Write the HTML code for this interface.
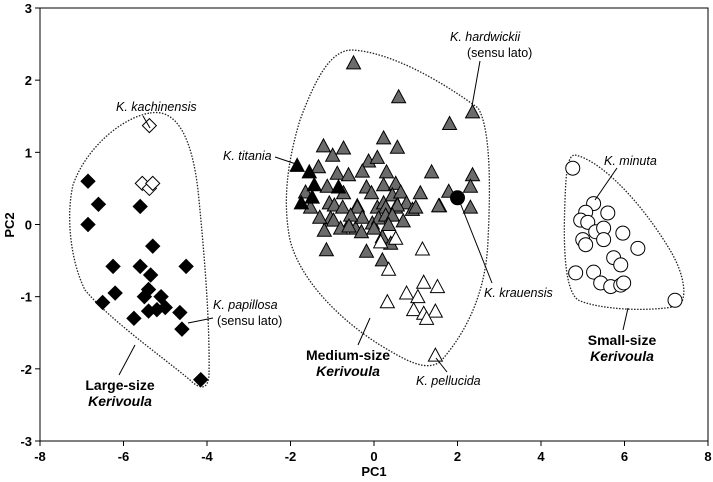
<!DOCTYPE html>
<html><head><meta charset="utf-8"><style>
body{margin:0;background:#fff;}
svg{display:block;font-family:"Liberation Sans",Arial,sans-serif;}
</style></head><body>
<svg id="chart" width="713" height="482" viewBox="0 0 713 482">
<g id="hulls" fill="none" stroke="#222" stroke-width="1.3" stroke-dasharray="1.5,1.5">
<path d="M150,113 C178,108 192,140 198,190 C204,250 210,320 209,375 C208,392 198,388 190,380 C160,355 110,320 85,290 C70,260 66,215 73,185 C85,150 120,118 150,113 Z"/>
<path d="M352,50 C390,52 440,80 478,108 C492,130 490,200 488,240 C486,300 460,340 440,362 C425,372 405,360 380,345 C340,320 300,280 290,240 C282,200 288,160 300,120 C315,80 330,50 352,50 Z"/>
<path d="M575,155 C600,160 640,200 670,250 C685,275 688,300 678,306 C650,312 600,310 578,300 C565,290 563,250 565,200 C566,170 568,155 575,155 Z"/>
</g>
<g id="axes"></g>
<g id="marks"></g>
<g id="annot" font-size="12.5" fill="#000" stroke="none">
<line x1="135" y1="345" x2="119" y2="375" stroke="#000"/>
<text x="120" y="390" text-anchor="middle" font-weight="bold" font-size="14">Large-size</text>
<text x="120" y="406" text-anchor="middle" font-weight="bold" font-style="italic" font-size="14">Kerivoula</text>
<line x1="370" y1="318" x2="358" y2="345" stroke="#000"/>
<text x="348" y="360" text-anchor="middle" font-weight="bold" font-size="14">Medium-size</text>
<text x="348" y="376" text-anchor="middle" font-weight="bold" font-style="italic" font-size="14">Kerivoula</text>
<line x1="628" y1="308" x2="623" y2="330" stroke="#000"/>
<text x="622" y="345" text-anchor="middle" font-weight="bold" font-size="14">Small-size</text>
<text x="622" y="361" text-anchor="middle" font-weight="bold" font-style="italic" font-size="14">Kerivoula</text>
<text x="116" y="111" font-style="italic">K. kachinensis</text>
<line x1="143" y1="116" x2="150" y2="128" stroke="#000"/>
<text x="213" y="309" font-style="italic">K. papillosa</text>
<text x="217" y="325">(sensu lato)</text>
<line x1="188" y1="323" x2="213" y2="318" stroke="#000"/>
<text x="223" y="160" font-style="italic">K. titania</text>
<line x1="275" y1="157" x2="296" y2="164" stroke="#000"/>
<text x="450" y="41" font-style="italic">K. hardwickii</text>
<text x="467" y="57">(sensu lato)</text>
<line x1="480" y1="61" x2="472" y2="106" stroke="#000"/>
<text x="484" y="297" font-style="italic">K. krauensis</text>
<line x1="459" y1="200" x2="492" y2="283" stroke="#000"/>
<text x="416" y="385" font-style="italic">K. pellucida</text>
<line x1="436" y1="358" x2="447" y2="372" stroke="#000"/>
<text x="604" y="165" font-style="italic">K. minuta</text>
<line x1="617" y1="168" x2="595" y2="200" stroke="#000"/>
</g>
</svg>
<script>
const xTicks=[-8,-6,-4,-2,0,2,4,6,8];
const yTicks=[-3,-2,-1,0,1,2,3];
const largeX=[-6.85,-6.6,-6.85,-5.6,-5.3,-6.25,-5.6,-4.5,-5.35,-6.2,-6.5,-5.4,-5.1,-5.2,-5.4,-5.5,-5.0,-4.65,-5.75,-4.6,-4.15];
const largeY=[0.6,0.28,0.0,0.25,-0.3,-0.58,-0.58,-0.58,-0.7,-0.95,-1.08,-0.9,-1.0,-1.18,-1.2,-1.0,-1.15,-1.22,-1.3,-1.45,-2.15];
const kachX=[-5.38,-5.55,-5.38,-5.3];
const kachY=[1.37,0.57,0.5,0.57];
const titX=[-1.84,-1.55,-1.43,-0.85,-1.48,-1.74];
const titY=[0.82,0.73,0.55,0.52,0.38,0.3];
const hardX=[-0.49,0.59,2.36,1.81,0.23,-1.21,-0.73,0.56,-0.99,-0.13,0.08,-1.33,-0.88,-0.61,-0.28,0.3,1.38,2.36,2.31,1.79,-1.12,-1.64,-0.73,-0.18,0.23,0.52,-0.06,0.44,0.64,1.11,-1.52,-1.07,-0.4,0.08,0.23,0.52,0.78,0.92,1.57,2.31,1.55,-0.95,-0.75,-0.4,0.28,0.56,1.0,-1.04,-1.19,-0.97,-0.61,-0.44,-0.28,-0.04,0.11,0.28,0.44,-0.56,-1.14,-0.18,0.2,0.4,0.2,-0.8,-0.3,0.0,0.35,0.7,-1.3,-0.6];
const hardY=[2.24,1.77,1.56,1.4,1.2,1.09,1.06,1.07,0.96,0.88,0.93,0.8,0.71,0.69,0.74,0.73,0.73,0.69,0.53,0.46,0.53,0.45,0.44,0.52,0.55,0.57,0.44,0.41,0.45,0.44,0.24,0.3,0.26,0.24,0.3,0.24,0.3,0.21,0.26,0.24,0.26,0.27,0.24,0.24,0.24,0.27,0.24,0.09,-0.08,0.06,0.0,-0.05,0.1,0.02,0.09,0.13,0.13,0.13,-0.35,-0.37,-0.17,-0.26,-0.49,-0.05,-0.1,-0.05,0.0,0.05,0.1,-0.02];
const pellX=[0.16,0.52,1.16,0.35,1.19,1.52,0.78,1.05,0.32,0.95,1.19,1.47,1.26,1.47];
const pellY=[-0.24,-0.19,-0.34,-0.62,-0.8,-0.86,-0.95,-1.0,-1.07,-1.18,-1.23,-1.2,-1.3,-1.81];
const krauX=[2.0];
const krauY=[0.37];
const smallX=[4.76,5.26,5.07,4.95,5.12,5.6,5.31,5.5,5.96,5.0,5.07,5.5,6.32,5.74,5.91,4.83,5.26,5.43,5.67,5.91,5.98,7.21];
const smallY=[0.78,0.29,0.17,0.06,0.03,0.16,-0.1,-0.05,-0.12,-0.21,-0.28,-0.21,-0.33,-0.46,-0.56,-0.67,-0.66,-0.81,-0.86,-0.84,-0.81,-1.05];

const L=40,R=708,T=8,B=441;
function sx(v){return L+(v+8)/16*(R-L);}
function sy(v){return B-(v+3)/6*(B-T);}
const NS="http://www.w3.org/2000/svg";
function mk(tag,attrs,parent){const e=document.createElementNS(NS,tag);for(const k in attrs)e.setAttribute(k,attrs[k]);parent.appendChild(e);return e;}
const ax=document.getElementById('axes');
const frame=mk('rect',{x:L,y:T,width:R-L,height:B-T,fill:'none',stroke:'#000','stroke-width':1},ax);


xTicks.forEach(v=>{
  const t=mk('line',{x1:sx(v),x2:sx(v),y1:B,y2:B+5,stroke:'#000'},ax);
  
  
  const lb=mk('text',{x:sx(v),y:B+20,'text-anchor':'middle','font-size':13,'font-weight':'bold'},ax);
  lb.textContent=v;
  
  
});
yTicks.forEach(v=>{
  const t=mk('line',{x1:L-5,x2:L,y1:sy(v),y2:sy(v),stroke:'#000'},ax);
  
  
  const lb=mk('text',{x:L-8,y:sy(v)+5,'text-anchor':'end','font-size':13,'font-weight':'bold'},ax);
  lb.textContent=v;
  
  
});
const xt=mk('text',{x:374,y:476,'text-anchor':'middle','font-size':13,'font-weight':'bold'},ax);
xt.textContent='PC1';


const yt=mk('text',{x:0,y:0,'text-anchor':'middle','font-size':13,'font-weight':'bold',transform:'translate(14,225) rotate(-90)'},ax);
yt.textContent='PC2';



const mg=document.getElementById('marks');
function diamond(xs,ys,fill,name){xs.forEach((v,i)=>{const x=sx(v),y=sy(ys[i]),s=7;
  const p=mk('polygon',{points:`${x},${y-s} ${x+s},${y} ${x},${y+s} ${x-s},${y}`,fill:fill,stroke:'#000','stroke-width':1},mg);
  
  });}
function tri(xs,ys,fill,name){xs.forEach((v,i)=>{const x=sx(v),y=sy(ys[i]);
  const p=mk('polygon',{points:`${x},${y-7} ${x+7},${y+6} ${x-7},${y+6}`,fill:fill,stroke:'#000','stroke-width':1},mg);
  
  });}
function circ(xs,ys,fill,r,name){xs.forEach((v,i)=>{
  const c=mk('circle',{cx:sx(v),cy:sy(ys[i]),r:r,fill:fill,stroke:'#000','stroke-width':1},mg);
  
  });}
diamond(largeX,largeY,'#000','papillosa-point');
diamond(kachX,kachY,'#fff','kachinensis-point');
tri(hardX,hardY,'#6b6b6b','hardwickii-point');
tri(titX,titY,'#000','titania-point');
tri(pellX,pellY,'#fff','pellucida-point');
circ(krauX,krauY,'#000',7,'krauensis-point');
circ(smallX,smallY,'#fff',7,'minuta-point');
</script>
</body></html>
